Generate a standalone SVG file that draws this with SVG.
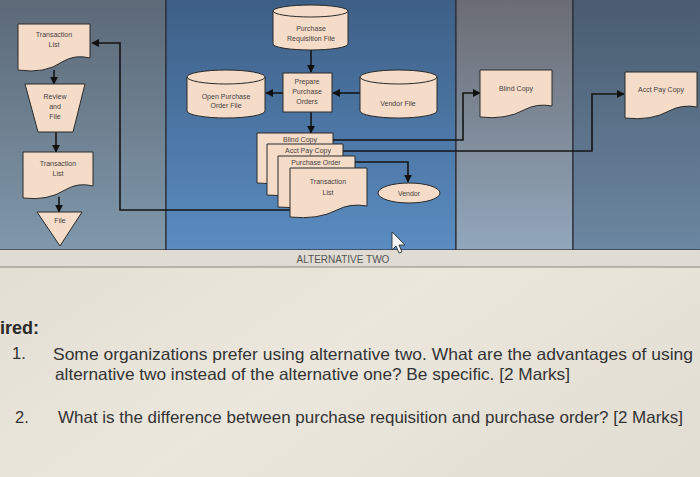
<svg xmlns="http://www.w3.org/2000/svg" width="700" height="477" viewBox="0 0 700 477">
<defs>
<linearGradient id="g1" x1="0" y1="0" x2="0" y2="1"><stop offset="0" stop-color="#5c6977"/><stop offset="1" stop-color="#7f98ab"/></linearGradient>
<linearGradient id="g2" x1="0" y1="0" x2="0" y2="1"><stop offset="0" stop-color="#3d5f86"/><stop offset="1" stop-color="#5a8cc1"/></linearGradient>
<linearGradient id="g3" x1="0" y1="0" x2="0" y2="1"><stop offset="0" stop-color="#6a6c73"/><stop offset="1" stop-color="#92a7bc"/></linearGradient>
<linearGradient id="g4" x1="0" y1="0" x2="0" y2="1"><stop offset="0" stop-color="#495c70"/><stop offset="1" stop-color="#6c87a1"/></linearGradient>
<linearGradient id="gp" x1="0" y1="0" x2="1" y2="1"><stop offset="0" stop-color="#ddd8ce"/><stop offset="0.6" stop-color="#ebe7dd"/><stop offset="1" stop-color="#e2ddd2"/></linearGradient>
<marker id="ah" viewBox="0 0 10 10" refX="9" refY="5" markerWidth="5" markerHeight="5" orient="auto"><path d="M0,0 L10,5 L0,10 z" fill="#111"/></marker>
</defs>
<style>
.n{fill:#f4dcc8;stroke:#2a2a2a;stroke-width:1}
.t{font-family:"Liberation Sans",Arial,sans-serif;font-size:7px;fill:#4a4040;text-anchor:middle}
.c{fill:none;stroke:#151515;stroke-width:1.6;marker-end:url(#ah)}
.q{font-family:"Liberation Sans",Arial,sans-serif;font-size:16.5px;fill:#333}
.lane{stroke:#2b2b35;stroke-width:1.2}
</style>
<rect x="0" y="0" width="700" height="477" fill="url(#gp)"/>
<g id="lanes">
<rect class="lane" x="-1" y="-1" width="167" height="251" fill="url(#g1)"/>
<rect class="lane" x="166" y="-1" width="290" height="251" fill="url(#g2)"/>
<rect class="lane" x="456" y="-1" width="117" height="251" fill="url(#g3)"/>
<rect class="lane" x="573" y="-1" width="128" height="251" fill="url(#g4)"/>
</g>
<rect x="0" y="250" width="700" height="17" fill="#e0dbd3"/>
<line x1="0" y1="267" x2="700" y2="267" stroke="#8a8580" stroke-width="1"/>
<text x="343" y="263" style="font-family:'Liberation Sans',Arial,sans-serif;font-size:10px;fill:#555" text-anchor="middle">ALTERNATIVE TWO</text>

<g id="connectors">
<path class="c" d="M54,70 V84"/>
<path class="c" d="M56,132 V152"/>
<path class="c" d="M59,197 V212"/>
<path class="c" d="M290,210 H120 V43 H92"/>
<path class="c" d="M311,50 V72"/>
<path class="c" d="M283,93 H266"/>
<path class="c" d="M360,93 H333"/>
<path class="c" d="M311,112 V133"/>
<path class="c" d="M333,140 H463 V93 H480"/>
<path class="c" d="M343,151 H592 V94 H624"/>
<path class="c" d="M355,162 H408 V182"/>
</g>

<g id="transaction-list-1">
<path class="n" d="M18,24 H90 V58 Q75,54 62,62 Q45,74 18,70 Z"/>
<text class="t" x="54" y="37">Transaction</text><text class="t" x="54" y="47">List</text>
</g>
<g id="review-and-file">
<path class="n" d="M25,84 H85 L73,132 H38 Z"/>
<text class="t" x="55" y="99">Review</text><text class="t" x="55" y="109">and</text><text class="t" x="55" y="119">File</text>
</g>
<g id="transaction-list-2">
<path class="n" d="M23,152 H93 V186 Q78,182 65,190 Q48,201 23,198 Z"/>
<text class="t" x="58" y="166">Transaction</text><text class="t" x="58" y="176">List</text>
</g>
<g id="file">
<path class="n" d="M37,212 H82 L60,246 Z"/>
<text class="t" x="60" y="223">File</text>
</g>

<g id="purchase-requisition-file">
<path class="n" d="M273,11 V44 A37.5,6 0 0 0 348,44 V11"/>
<ellipse class="n" cx="310.5" cy="11" rx="37.5" ry="6"/>
<text class="t" x="311" y="31">Purchase</text><text class="t" x="311" y="41">Requisition File</text>
</g>
<g id="prepare-purchase-orders">
<rect class="n" x="283" y="73" width="49" height="39"/>
<text class="t" x="307" y="84">Prepare</text><text class="t" x="307" y="94">Purchase</text><text class="t" x="307" y="104">Orders</text>
</g>
<g id="open-purchase-order-file">
<path class="n" d="M187,77 V111 A39,7 0 0 0 265,111 V77"/>
<ellipse class="n" cx="226" cy="77" rx="39" ry="7"/>
<text class="t" x="226" y="99">Open Purchase</text><text class="t" x="226" y="108">Order File</text>
</g>
<g id="vendor-file">
<path class="n" d="M360,77 V111 A38.5,7 0 0 0 437,111 V77"/>
<ellipse class="n" cx="398.5" cy="77" rx="38.5" ry="7"/>
<text class="t" x="398" y="106">Vendor File</text>
</g>

<g id="blind-copy-stack">
<path class="n" d="M257,133 H333 V172 Q318,169 305,176 Q288,186 257,183 Z"/>
<text class="t" x="300" y="142">Blind Copy</text>
</g>
<g id="acct-pay-copy-stack">
<path class="n" d="M267,144 H343 V184 Q328,181 315,188 Q298,198 267,195 Z"/>
<text class="t" x="308" y="153">Acct Pay Copy</text>
</g>
<g id="purchase-order-stack">
<path class="n" d="M278,156 H355 V196 Q340,193 327,200 Q310,210 278,207 Z"/>
<text class="t" x="316" y="165">Purchase Order</text>
</g>
<g id="transaction-list-stack">
<path class="n" d="M290,168 H367 V206 Q350,203 337,210 Q318,220 290,217 Z"/>
<text class="t" x="328" y="184">Transaction</text><text class="t" x="328" y="195">List</text>
</g>
<g id="vendor">
<ellipse class="n" cx="409" cy="193" rx="31" ry="10"/>
<text class="t" x="409" y="196">Vendor</text>
</g>

<g id="blind-copy">
<path class="n" d="M480,70 H552 V106 Q537,103 524,110 Q506,120 480,117 Z"/>
<text class="t" x="516" y="91">Blind Copy</text>
</g>
<g id="acct-pay-copy">
<path class="n" d="M625,72 H697 V107 Q682,104 669,111 Q651,121 625,118 Z"/>
<text class="t" x="661" y="92">Acct Pay Copy</text>
</g>

<path d="M392,232 L392,250 L396,246 L399,253 L402,252 L399,245 L405,245 Z" fill="#f4f4f4" stroke="#222" stroke-width="0.8"/>

<g id="questions">
<text x="0" y="334" style="font-family:'Liberation Sans',Arial,sans-serif;font-size:18px;font-weight:bold;fill:#2a2a2a">ired:</text>
<text class="q" x="12" y="359">1.</text>
<text class="q" x="53" y="360" textLength="640" lengthAdjust="spacingAndGlyphs">Some organizations prefer using alternative two. What are the advantages of using</text>
<text class="q" x="55" y="380" textLength="515" lengthAdjust="spacingAndGlyphs">alternative two instead of the alternative one? Be specific. [2 Marks]</text>
<text class="q" x="15" y="423">2.</text>
<text class="q" x="58" y="423" textLength="625" lengthAdjust="spacingAndGlyphs">What is the difference between purchase requisition and purchase order? [2 Marks]</text>
</g>
</svg>
